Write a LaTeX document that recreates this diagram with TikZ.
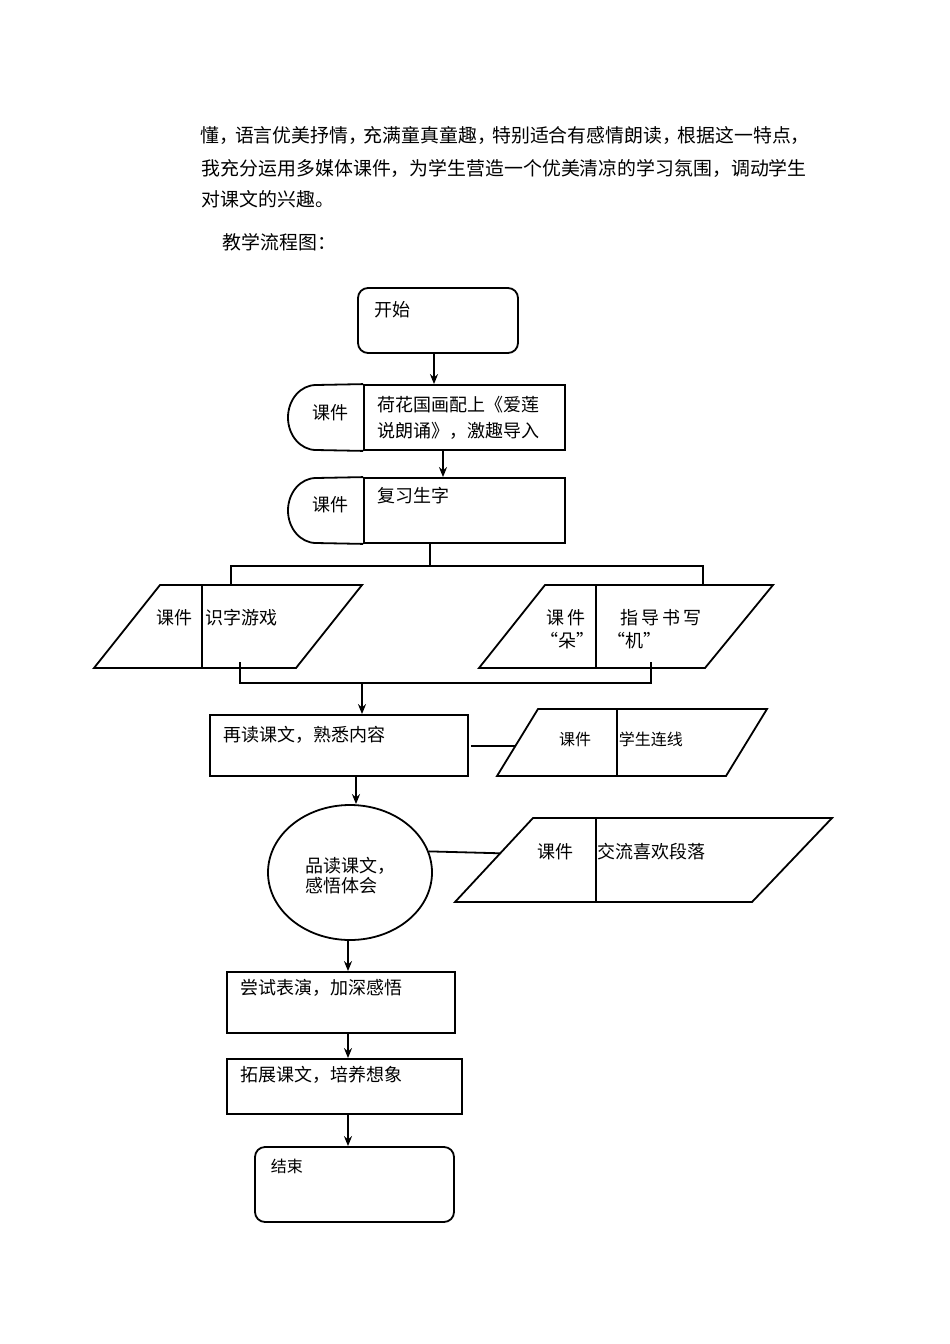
\documentclass[tikz,border=0pt]{standalone}
\usepackage{fontspec}
\newfontfamily\cjk{Noto Sans CJK SC}
\usetikzlibrary{arrows.meta,shapes.geometric,calc}
\begin{document}
\begin{tikzpicture}[x=1pt,y=-1pt,line width=1.8pt,
  para/.style={font=\cjk\fontsize{18.9}{22}\selectfont,inner sep=0pt,anchor=west},
  txt/.style={font=\cjk\fontsize{18}{22}\selectfont,inner sep=0pt,anchor=west},
  ctxt/.style={font=\cjk\fontsize{18}{22}\selectfont,inner sep=0pt},
  stxt/.style={font=\cjk\fontsize{16}{20}\selectfont,inner sep=0pt,anchor=west},
  sctxt/.style={font=\cjk\fontsize{16}{20}\selectfont,inner sep=0pt},
  box/.style={draw,inner sep=0pt},
  rbox/.style={draw,inner sep=0pt,rounded corners=10pt},
  arr/.style={-{Stealth[length=10pt,width=8pt]},line width=1.8pt}]
\useasboundingbox (0,0) rectangle (950,1344);
\fill[white] (0,0) rectangle (950,1344);

% paragraph text
\node[para] (l1) at (200,135) {懂，\kern-3.7pt语言优美抒情，\kern-3.7pt充满童真童趣，\kern-3.7pt特别适合有感情朗读，\kern-3.7pt根据这一特点，};
\node[para] (l2) at (201,168) {我充分运用多媒体课件，为学生营造一个优美清凉的学习氛围，调动学生};
\node[para] (l3) at (201,199) {对课文的兴趣。};
\node[para] (l4) at (222,242) {教学流程图：};

% start
\node[rbox,minimum width=160pt,minimum height=65pt] (start) at (438,320.5) {};
\node[txt] (starttxt) at (374,310) {开始};

% courseware 1
\node[box,minimum width=201pt,minimum height=65pt] (k1) at (464.5,417.5) {};
\draw (k1.north west) -- (316,385) arc[start angle=270,end angle=90,x radius=28,y radius=32.5] -- (k1.south west);
\node[ctxt] (k1a) at (330,413) {课件};
\node[txt] (k1b) at (377,405) {荷花国画配上《爱莲};
\node[txt] (k1c) at (377,431) {说朗诵》，激趣导入};

% courseware 2
\node[box,minimum width=201pt,minimum height=65pt] (k2) at (464.5,510.5) {};
\draw (k2.north west) -- (316,478) arc[start angle=270,end angle=90,x radius=28,y radius=32.5] -- (k2.south west);
\node[ctxt] (k2a) at (330,505) {课件};
\node[txt] (k2b) at (377,496) {复习生字};

\draw[arr] ([xshift=-4pt]start.south) -- ([xshift=-30.5pt]k1.north);
\draw[arr] ([xshift=-21.5pt]k1.south) -- ([xshift=-21.5pt]k2.north);

% parallelogram 1
\coordinate (p1tl) at (160,585); \coordinate (p1tr) at (362,585);
\coordinate (p1br) at (296,668); \coordinate (p1bl) at (94,668);
\draw (p1tl) -- (p1tr) -- (p1br) -- (p1bl) -- cycle;
\draw (202,585) -- (202,668);
\node[ctxt] (p1a) at (174,618) {课件};
\node[txt] (p1b) at (205,618) {识字游戏};

% parallelogram 2
\coordinate (p2tl) at (545,585); \coordinate (p2tr) at (773,585);
\coordinate (p2br) at (705,668); \coordinate (p2bl) at (479,668);
\draw (p2tl) -- (p2tr) -- (p2br) -- (p2bl) -- cycle;
\draw (596,585) -- (596,668);
\node[ctxt] (p2a) at (566,618) {课\,件};
\node[ctxt] (p2b) at (567,641) {“朵”};
\node[txt] (p2c) at (620,618) {指\,导\,书\,写};
\node[txt] (p2d) at (607,641) {“机”};

% branch
\coordinate (br) at (430,566);
\coordinate (p1t) at (231,585);
\coordinate (p2t) at (703,585);
\draw ([xshift=-34.5pt]k2.south) -- (br);
\draw (p1t) -- (p1t |- br) -- (p2t |- br) -- (p2t);

% merge
\coordinate (m1) at (240,662);
\coordinate (m2) at (651,662);
\coordinate (mg) at (362,683);
\draw (m1) -- (m1 |- mg) -- (m2 |- mg) -- (m2);

% read again box
\node[box,minimum width=258pt,minimum height=61pt] (r1) at (339,745.5) {};
\node[txt] (r1t) at (223,735) {再读课文，熟悉内容};
\draw[arr] (mg) -- (mg |- r1.north);

% parallelogram 3
\coordinate (p3tl) at (538,709); \coordinate (p3tr) at (767,709);
\coordinate (p3br) at (726,776); \coordinate (p3bl) at (497,776);
\draw (p3tl) -- (p3tr) -- (p3br) -- (p3bl) -- cycle;
\draw (617,709) -- (617,776);
\node[sctxt] (p3a) at (575,739) {课件};
\node[stxt] (p3b) at (618,739) {学生连线};
\coordinate (p3e) at ($(p3bl)!0.45!(p3tl)$);
\draw ([xshift=2pt]r1.east |- p3e) -- (p3e);

% circle
\node[draw,ellipse,minimum width=164pt,minimum height=135pt,inner sep=0pt] (c) at (350,872.5) {};
\node[txt] (ca) at (305,866) {品读课文，};
\node[txt] (cb) at (305,886) {感悟体会};
\draw[arr] ([xshift=17pt]r1.south) -- ([xshift=17pt]r1.south |- c.north);

% parallelogram 4
\coordinate (p4tl) at (533,818); \coordinate (p4tr) at (832,818);
\coordinate (p4br) at (752,902); \coordinate (p4bl) at (455,902);
\draw (p4tl) -- (p4tr) -- (p4br) -- (p4bl) -- cycle;
\draw (596,818) -- (596,902);
\node[ctxt] (p4a) at (555,852) {课件};
\node[txt] (p4b) at (597,852) {交流喜欢段落};
\coordinate (p4e) at ($(p4bl)!0.58!(p4tl)$);
\draw (c.15) -- (p4e);

% try acting
\node[box,minimum width=228pt,minimum height=61pt] (r2) at (341,1002.5) {};
\node[txt] (r2t) at (240,988) {尝试表演，加深感悟};
\draw[arr] ([xshift=-2pt]c.south) -- ([xshift=7pt]r2.north);

% extend
\node[box,minimum width=235pt,minimum height=55pt] (r3) at (344.5,1086.5) {};
\node[txt] (r3t) at (240,1075) {拓展课文，培养想象};
\draw[arr] ([xshift=7pt]r2.south) -- ([xshift=3.5pt]r3.north);

% end
\node[rbox,minimum width=199pt,minimum height=75pt] (end) at (354.5,1184.5) {};
\node[stxt] (endt) at (270,1166) {结束};
\draw[arr] ([xshift=3.5pt]r3.south) -- ([xshift=-6.5pt]end.north);
\end{tikzpicture}
\end{document}
